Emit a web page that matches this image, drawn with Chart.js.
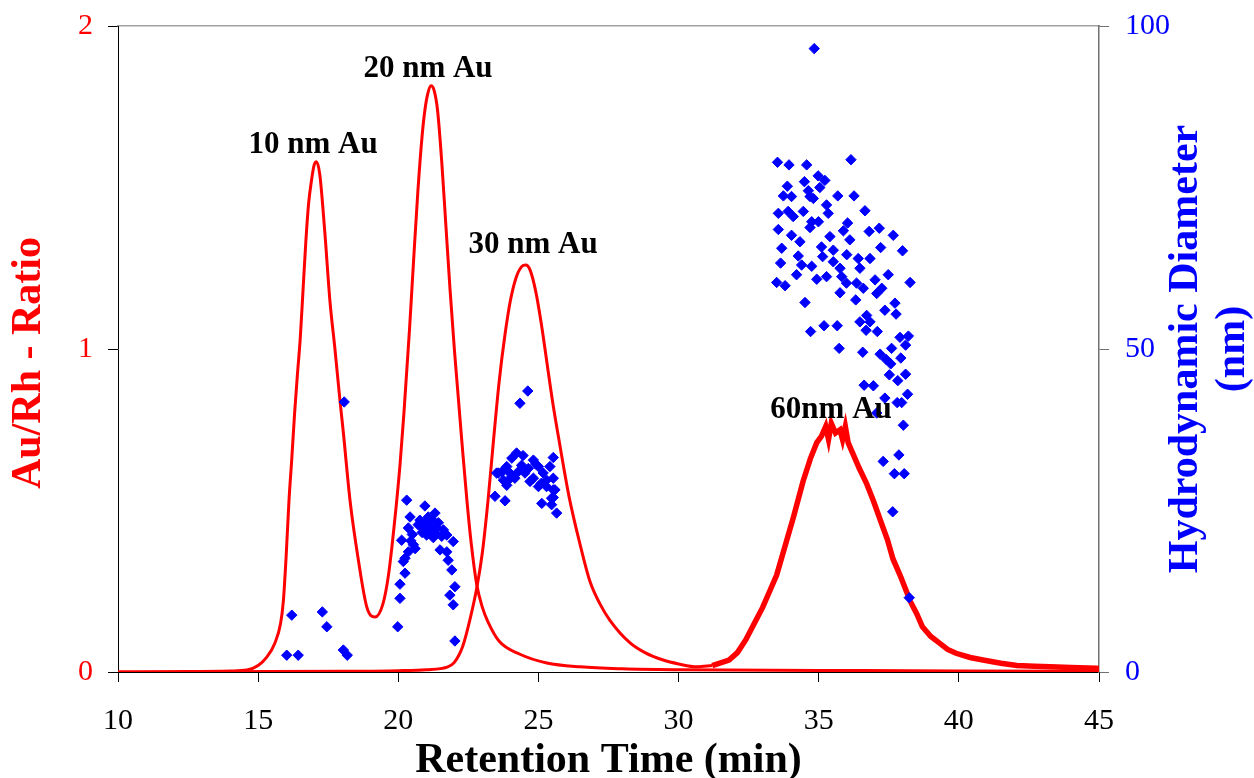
<!DOCTYPE html>
<html>
<head>
<meta charset="utf-8">
<script src="https://cdn.jsdelivr.net/npm/chart.js@4.4.1/dist/chart.umd.min.js"></script>
<style>
  html, body { margin: 0; padding: 0; background: #ffffff; }
  #wrap { width: 1254px; height: 778px; }
</style>
</head>
<body>
<div id="wrap"><canvas id="c" width="1254" height="778"></canvas></div>
<script>
// ---------------- DATA ----------------
// Au/Rh ratio trace covering the 10 nm and 20 nm peaks
const ratioAX = [10, 12, 14, 14.6, 15.0, 15.3, 15.6, 15.8, 15.9, 16.0, 16.1, 16.2, 16.3, 16.4, 16.5, 16.6, 16.7, 16.8, 16.9, 17.0, 17.08, 17.2, 17.38, 17.56, 17.74, 17.92, 18.03, 18.28, 18.57, 18.88, 19.17, 19.45, 19.65, 19.85, 20.06, 20.2, 20.4, 20.55, 20.7, 20.85, 20.95, 21.05, 21.17, 21.28, 21.4, 21.55, 21.7, 21.85, 22.0, 22.15, 22.3, 22.45, 22.6, 22.8, 23.0, 23.2, 23.6, 24.34, 25.3, 26.5, 28, 30, 35, 40, 45];
const ratioAY = [0.0, 0.001, 0.003, 0.006, 0.02, 0.045, 0.09, 0.15, 0.22, 0.36, 0.53, 0.66, 0.8, 0.92, 1.03, 1.18, 1.33, 1.45, 1.52, 1.57, 1.58, 1.54, 1.36, 1.15, 1.0, 0.84, 0.75, 0.53, 0.35, 0.2, 0.17, 0.21, 0.3, 0.45, 0.64, 0.8, 1.06, 1.28, 1.49, 1.66, 1.74, 1.79, 1.815, 1.8, 1.74, 1.58, 1.38, 1.18, 1.0, 0.84, 0.68, 0.53, 0.4, 0.27, 0.2, 0.155, 0.095, 0.055, 0.028, 0.016, 0.01, 0.007, 0.005, 0.003, 0.002];

// Au/Rh ratio trace covering the 30 nm peak
const ratioBX = [10, 14, 18, 20, 21, 21.74, 22.0, 22.3, 22.55, 22.8, 23.0, 23.2, 23.4, 23.6, 23.8, 24.0, 24.2, 24.4, 24.55, 24.7, 24.9, 25.1, 25.3, 25.5, 25.77, 26.1, 26.5, 26.84, 27.2, 27.55, 28.27, 28.8, 29.45, 30.0, 30.66, 31.2];
const ratioBY = [0.0, 0.001, 0.002, 0.004, 0.007, 0.015, 0.03, 0.08, 0.16, 0.26, 0.37, 0.53, 0.72, 0.9, 1.04, 1.15, 1.22, 1.255, 1.26, 1.245, 1.18, 1.08, 0.96, 0.84, 0.7, 0.54, 0.39, 0.28, 0.21, 0.16, 0.09, 0.06, 0.037, 0.025, 0.016, 0.02];

// same trace continued over the (noisy) 60 nm peak
const ratioCX = [31.2, 31.8, 32.1, 32.4, 32.7, 33.0, 33.3, 33.5, 33.8, 34.1, 34.44, 34.7, 34.93, 35.1, 35.25, 35.35, 35.45, 35.6, 35.76, 35.85, 35.95, 36.05, 36.2, 36.45, 36.7, 36.95, 37.2, 37.45, 37.65, 37.9, 38.15, 38.26, 38.5, 38.7, 39.0, 39.3, 39.6, 39.9, 40.4, 40.86, 41.5, 42.07, 42.7, 43.25, 44.0, 44.9, 45];
const ratioCY = [0.02, 0.037, 0.06, 0.1, 0.15, 0.2, 0.26, 0.3, 0.39, 0.48, 0.59, 0.66, 0.71, 0.73, 0.76, 0.72, 0.77, 0.74, 0.75, 0.72, 0.76, 0.71, 0.68, 0.63, 0.585, 0.53, 0.47, 0.41, 0.35, 0.3, 0.245, 0.22, 0.18, 0.14, 0.11, 0.09, 0.07, 0.058, 0.045, 0.037, 0.027, 0.02, 0.018, 0.016, 0.014, 0.012, 0.011];

// Hydrodynamic diameter (nm) points
const sizeX = [16.02, 16.2, 16.43, 17.29, 17.45, 18.04, 18.18, 18.07,
  19.98, 20.30, 20.95, 20.42, 21.31, 21.07, 20.36, 20.71, 20.89, 21.19, 21.43, 21.61, 21.01, 21.31, 21.73, 20.12, 20.54, 21.96, 21.49, 20.36, 20.60, 21.73, 20.24, 21.78, 20.18, 21.91, 20.24, 20.06, 22.02, 21.84, 20.06, 21.96, 22.02,
  20.77, 21.2, 20.99, 21.12, 21.38, 20.85, 21.55, 20.5, 21.25, 20.45,
  24.62, 24.34, 24.22, 24.05, 24.82, 25.53, 23.87, 24.40, 24.64, 25.0, 25.41, 23.57, 23.98, 24.28, 24.52, 25.17, 23.75, 24.16, 24.82, 25.29, 25.53, 23.87, 25.0, 25.29, 25.59, 23.45, 23.81, 25.53, 25.12, 25.47, 25.65, 23.51, 23.93, 25.53, 25.47, 24.45, 24.9, 24.7, 25.1, 23.7,
  34.84, 33.53, 33.94, 34.57, 36.15, 34.98, 35.22, 33.88, 34.49, 34.63, 35.04, 33.74, 34.03, 34.69, 35.68, 36.26, 34.81, 35.28, 35.34, 33.56, 33.91, 34.09, 34.45, 36.65, 34.75, 34.99, 36.03, 33.56, 34.69, 35.88, 36.80, 37.16, 34.03, 34.33, 35.40, 36.11, 37.66, 33.68, 35.1, 35.52, 37.21, 37.99, 34.27, 35.14, 36.0, 36.41, 36.83, 33.64, 34.39, 34.75, 35.52, 36.47, 34.21, 35.28, 35.76, 35.82, 33.50, 33.8, 34.93, 35.99, 36.35, 37.01, 37.48, 38.26, 35.76, 36.59, 37.25, 37.07, 34.51, 36.32, 37.72, 37.36, 36.71, 37.76, 34.71, 35.19, 35.66, 36.47, 36.83, 38.2, 37.9, 36.69, 37.09, 38.1, 35.73, 36.57, 37.19, 37.6, 37.4, 37.57, 37.93, 37.52, 38.1, 37.82, 36.62, 36.95, 37.36, 37.8, 37.96, 38.17, 37.07, 38.02, 37.30, 37.86, 37.70, 38.05, 37.64, 38.23];
const sizeY = [2.6, 8.8, 2.6, 9.3, 7.0, 3.4, 2.6, 41.8,
  7.0, 26.6, 25.7, 24.0, 24.6, 24.0, 22.3, 22.8, 22.3, 22.5, 23.1, 22.0, 21.2, 21.5, 21.2, 20.4, 19.7, 20.2, 18.9, 18.6, 19.1, 18.6, 17.6, 17.3, 17.1, 15.8, 15.3, 13.6, 13.2, 11.9, 11.4, 10.4, 4.8,
  23.5, 23.6, 23.2, 22.0, 22.3, 21.6, 21.0, 21.3, 20.8, 20.3,
  43.5, 41.6, 33.9, 33.1, 32.8, 33.2, 31.8, 32.0, 31.5, 31.8, 31.8, 30.8, 30.8, 31.0, 30.8, 30.8, 29.7, 30.0, 30.0, 29.7, 30.0, 28.9, 28.7, 28.7, 28.2, 27.2, 26.5, 27.0, 26.1, 25.9, 24.6, 30.8, 29.7, 28.2, 26.9, 33.5, 32.2, 29.5, 29.2, 31.0,
  96.5, 78.9, 78.5, 78.5, 79.3, 76.8, 76.1, 75.2, 75.9, 74.5, 75.0, 73.7, 73.6, 73.6, 73.7, 73.7, 73.3, 72.3, 71.0, 71.0, 71.3, 70.5, 71.3, 71.4, 69.7, 69.7, 69.5, 68.5, 68.8, 68.3, 68.2, 68.7, 67.6, 66.6, 67.4, 66.9, 67.6, 65.6, 65.8, 65.3, 65.7, 65.2, 64.4, 64.3, 64.6, 64.0, 64.0, 63.3, 63.0, 62.8, 63.5, 62.5, 61.5, 61.2, 62.5, 61.2, 60.3, 59.8, 60.8, 60.2, 60.2, 60.7, 61.5, 60.3, 58.7, 59.4, 59.4, 58.6, 57.2, 57.6, 57.1, 56.0, 55.2, 55.4, 52.7, 53.6, 53.6, 54.2, 54.2, 52.0, 51.8, 52.9, 52.7, 50.6, 50.1, 49.5, 49.2, 50.1, 48.4, 47.7, 48.6, 46.0, 46.1, 45.1, 44.4, 44.3, 42.4, 41.7, 41.7, 43.0, 40.1, 38.2, 32.6, 33.6, 30.7, 30.7, 24.8, 11.5];

// tick values
const xTicks = [10, 15, 20, 25, 30, 35, 40, 45];
const yLeftTicks = [0, 1, 2];
const yRightTicks = [0, 50, 100];

// peak labels (anchored in data units: x in min, y in Au/Rh ratio)
const peakLabels = ['10 nm Au', '20 nm Au', '30 nm Au', '60nm Au'];
const peakLabelX = [16.96, 21.06, 24.81, 35.44];
const peakLabelY = [1.607, 1.842, 1.297, 0.786];

// ---------------- CHART ----------------
const pts = (xs, ys) => xs.map((x, i) => ({ x: x, y: ys[i] }));
const SERIF = '"Liberation Serif", "Times New Roman", Times, serif';
const RED = '#ff0000';
const BLUE = '#0000ff';

const setTicks = (vals) => (scale) => { scale.ticks = vals.map(v => ({ value: v })); };

const textPlugin = {
  id: 'textPlugin',
  afterDraw(chart) {
    const ctx = chart.ctx;
    const xs = chart.scales.x, ys = chart.scales.y;
    ctx.save();
    // peak labels
    ctx.fillStyle = '#000000';
    ctx.font = 'bold 31px ' + SERIF;
    ctx.textAlign = 'center';
    ctx.textBaseline = 'alphabetic';
    peakLabels.forEach((t, i) => {
      ctx.fillText(t, xs.getPixelForValue(peakLabelX[i]), ys.getPixelForValue(peakLabelY[i]));
    });
    // axis titles (rotated, reading bottom to top)
    const midY = (chart.chartArea.top + chart.chartArea.bottom) / 2;
    ctx.font = 'bold 42px ' + SERIF;
    ctx.textBaseline = 'middle';
    ctx.fillStyle = RED;
    ctx.save();
    ctx.translate(29, midY + 14);
    ctx.rotate(-Math.PI / 2);
    ctx.fillText('Au/Rh - Ratio', 0, 0);
    ctx.restore();
    ctx.fillStyle = BLUE;
    ctx.save();
    ctx.translate(1186, midY);
    ctx.rotate(-Math.PI / 2);
    ctx.fillText('Hydrodynamic Diameter', 0, 0);
    ctx.restore();
    ctx.save();
    ctx.translate(1233, midY);
    ctx.rotate(-Math.PI / 2);
    ctx.fillText('(nm)', 0, 0);
    ctx.restore();
    ctx.restore();
  }
};

const fitV = (w) => (s) => { s.width = w; s.paddingTop = 0; s.paddingBottom = 0; };

new Chart(document.getElementById('c'), {
  type: 'line',
  data: {
    datasets: [
      {
        label: 'Hydrodynamic Diameter',
        type: 'scatter',
        data: pts(sizeX, sizeY),
        yAxisID: 'y2',
        xAxisID: 'x',
        pointStyle: 'rectRot',
        pointRadius: 5.2,
        pointBorderWidth: 1,
        backgroundColor: BLUE,
        borderColor: BLUE,
        showLine: false,
        order: 0
      },
      {
        label: 'Au/Rh A',
        data: pts(ratioAX, ratioAY),
        yAxisID: 'y', xAxisID: 'x',
        borderColor: RED, borderWidth: 3, pointRadius: 0,
        cubicInterpolationMode: 'monotone', fill: false, order: 1
      },
      {
        label: 'Au/Rh B',
        data: pts(ratioBX, ratioBY),
        yAxisID: 'y', xAxisID: 'x',
        borderColor: RED, borderWidth: 3, pointRadius: 0,
        cubicInterpolationMode: 'monotone', fill: false, order: 2
      },
      {
        label: 'Au/Rh C',
        data: pts(ratioCX, ratioCY),
        yAxisID: 'y', xAxisID: 'x',
        borderColor: RED, borderWidth: 5.5, pointRadius: 0,
        borderJoinStyle: 'miter', fill: false, order: 3
      }
    ]
  },
  options: {
    responsive: false,
    devicePixelRatio: 1,
    animation: false,
    events: [],
    layout: { padding: 0 },
    plugins: { legend: { display: false }, tooltip: { enabled: false }, title: { display: false } },
    scales: {
      x: {
        type: 'linear', position: 'bottom', min: 10, max: 45,
        afterBuildTicks: setTicks(xTicks),
        afterFit: (s) => { s.height = 106; },
        ticks: { color: '#000000', font: { family: SERIF, size: 30 }, padding: 21, maxRotation: 0, autoSkip: false },
        grid: { display: true, drawOnChartArea: false, drawTicks: true, tickLength: 10, color: '#000000', lineWidth: 1 },
        border: { display: true, color: '#000000', width: 1 },
        title: { display: true, text: 'Retention Time (min)', color: '#000000', font: { family: SERIF, size: 42, weight: 'bold', lineHeight: 0.81 }, padding: { top: 0, bottom: 0 } }
      },
      xTop: {
        type: 'linear', position: 'top', min: 10, max: 45,
        afterFit: (s) => { s.height = 26; },
        ticks: { display: false },
        grid: { display: false, drawTicks: false },
        border: { display: true, color: '#a0a0a0', width: 1.5 }
      },
      y: {
        type: 'linear', position: 'left', min: 0, max: 2,
        afterBuildTicks: setTicks(yLeftTicks),
        afterFit: fitV(118),
        ticks: { color: RED, font: { family: SERIF, size: 30 }, padding: 15 },
        grid: { display: true, drawOnChartArea: false, drawTicks: true, tickLength: 10, color: '#000000', lineWidth: 1 },
        border: { display: true, color: '#000000', width: 1 }
      },
      y2: {
        type: 'linear', position: 'right', min: 0, max: 100,
        afterBuildTicks: setTicks(yRightTicks),
        afterFit: fitV(155),
        ticks: { color: BLUE, font: { family: SERIF, size: 30 }, padding: 16 },
        grid: { display: true, drawOnChartArea: false, drawTicks: true, tickLength: 10, color: '#707070', lineWidth: 1 },
        border: { display: true, color: '#707070', width: 1.5 }
      }
    }
  },
  plugins: [textPlugin]
});
</script>
</body>
</html>
